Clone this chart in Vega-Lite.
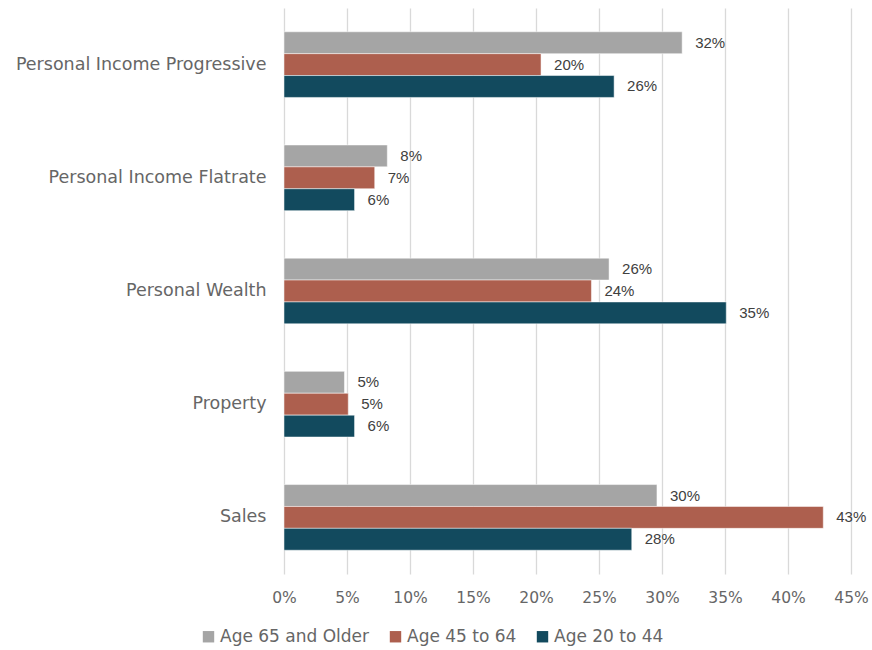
{
  "$schema": "https://vega.github.io/schema/vega-lite/v6.json",
  "width": 567,
  "height": 566,
  "autosize": {"type": "none"},
  "padding": {"left": 284, "top": 8, "right": 21, "bottom": 76},
  "background": "white",
  "data": {
    "values": [
      {"tax": "Personal Income Progressive", "age": "Age 65 and Older", "value": 0.316},
      {"tax": "Personal Income Progressive", "age": "Age 45 to 64", "value": 0.204},
      {"tax": "Personal Income Progressive", "age": "Age 20 to 44", "value": 0.262},
      {"tax": "Personal Income Flatrate", "age": "Age 65 and Older", "value": 0.082},
      {"tax": "Personal Income Flatrate", "age": "Age 45 to 64", "value": 0.072},
      {"tax": "Personal Income Flatrate", "age": "Age 20 to 44", "value": 0.056},
      {"tax": "Personal Wealth", "age": "Age 65 and Older", "value": 0.258},
      {"tax": "Personal Wealth", "age": "Age 45 to 64", "value": 0.244},
      {"tax": "Personal Wealth", "age": "Age 20 to 44", "value": 0.351},
      {"tax": "Property", "age": "Age 65 and Older", "value": 0.048},
      {"tax": "Property", "age": "Age 45 to 64", "value": 0.051},
      {"tax": "Property", "age": "Age 20 to 44", "value": 0.056},
      {"tax": "Sales", "age": "Age 65 and Older", "value": 0.296},
      {"tax": "Sales", "age": "Age 45 to 64", "value": 0.428},
      {"tax": "Sales", "age": "Age 20 to 44", "value": 0.276}
    ]
  },
  "encoding": {
    "y": {
      "field": "tax",
      "type": "nominal",
      "sort": ["Personal Income Progressive", "Personal Income Flatrate", "Personal Wealth", "Property", "Sales"],
      "scale": {"paddingInner": 0.42, "paddingOuter": 0.21},
      "axis": {
        "title": null,
        "domain": false,
        "ticks": false,
        "labelFont": "DejaVu Sans",
        "labelFontSize": 17.5,
        "labelColor": "#666666",
        "labelPadding": 18,
        "labelLimit": 300
      }
    },
    "yOffset": {
      "field": "age",
      "type": "nominal",
      "sort": ["Age 65 and Older", "Age 45 to 64", "Age 20 to 44"],
      "scale": {"paddingInner": 0, "paddingOuter": 0}
    },
    "x": {
      "field": "value",
      "type": "quantitative",
      "scale": {"domain": [0, 0.45]},
      "axis": {
        "title": null,
        "format": ".0%",
        "values": [0, 0.05, 0.1, 0.15, 0.2, 0.25, 0.3, 0.35, 0.4, 0.45],
        "domain": false,
        "ticks": false,
        "grid": true,
        "gridColor": "#d9d9d9",
        "gridWidth": 1.3,
        "labelFont": "DejaVu Sans",
        "labelFontSize": 15.5,
        "labelColor": "#666666",
        "labelPadding": 16,
        "labelFlush": false
      }
    }
  },
  "layer": [
    {
      "mark": {"type": "bar", "stroke": "white", "strokeWidth": 0.5},
      "encoding": {
        "color": {
          "field": "age",
          "type": "nominal",
          "sort": ["Age 65 and Older", "Age 45 to 64", "Age 20 to 44"],
          "scale": {
            "domain": ["Age 65 and Older", "Age 45 to 64", "Age 20 to 44"],
            "range": ["#A5A5A5", "#AD5F4E", "#124A5E"]
          },
          "legend": {
            "title": null,
            "orient": "none",
            "direction": "horizontal",
            "legendX": -84,
            "legendY": 620,
            "symbolType": "square",
            "symbolSize": 130,
            "symbolStrokeWidth": 0,
            "labelFont": "DejaVu Sans",
            "labelFontSize": 17,
            "labelColor": "#666666",
            "columnPadding": 17,
            "labelOffset": 3
          }
        }
      }
    },
    {
      "mark": {
        "type": "text",
        "align": "left",
        "baseline": "middle",
        "dx": 13,
        "font": "Liberation Sans",
        "fontSize": 15,
        "color": "#404040"
      },
      "encoding": {
        "text": {"field": "value", "type": "quantitative", "format": ".0%"}
      }
    }
  ],
  "config": {"view": {"stroke": null}}
}
